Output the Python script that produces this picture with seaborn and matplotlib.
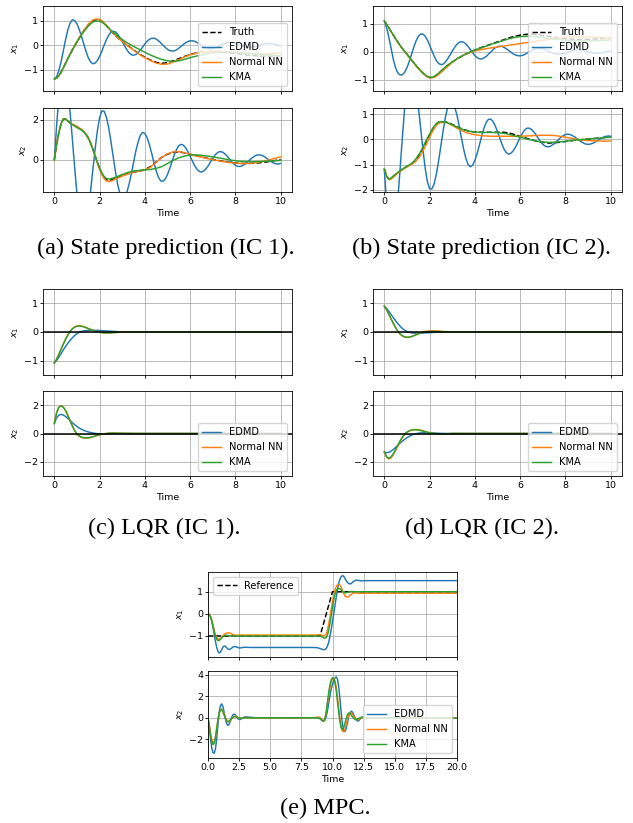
import numpy as np
import matplotlib
matplotlib.use("Agg")
import matplotlib.pyplot as plt
import seaborn as sns

# ---------------- time grids ----------------
t_fine = np.round(np.arange(0, 10.001, 0.1), 2)                       # EDMD (a),(b)
t_smooth = np.round(np.concatenate([np.arange(0, 2.501, 0.1),
                                    np.arange(2.75, 10.001, 0.25)]), 2)  # truth/NN/KMA (a),(b)
t_lqr = np.round(np.concatenate([np.arange(0, 3.001, 0.1),
                                 [3.5, 4, 5, 6, 7, 8, 9, 10]]), 2)
t_mpc = np.round(np.concatenate([np.arange(0, 3.001, 0.1),
                                 [3.5, 4, 5, 6, 7, 8, 8.5],
                                 np.arange(8.8, 13.001, 0.1),
                                 [14, 16, 18, 20]]), 2)

# ---------------- (a) State prediction IC 1 ----------------
a_x1_truth = [-1.37, -1.33, -1.24, -1.09, -0.91, -0.72, -0.53, -0.35, -0.18, -0.01, 0.15, 0.30, 0.45,
              0.59, 0.72, 0.83, 0.93, 1.00, 1.04, 1.06, 1.04, 0.99, 0.91, 0.81, 0.70, 0.59,
              0.36, 0.16, -0.01, -0.18, -0.34, -0.48, -0.60, -0.69, -0.73, -0.70,
              -0.63, -0.54, -0.45, -0.37, -0.31, -0.27, -0.25, -0.24, -0.25, -0.27,
              -0.30, -0.33, -0.36, -0.39, -0.41, -0.43, -0.44, -0.44, -0.43, -0.42]
a_x1_nn = [-1.37, -1.33, -1.24, -1.09, -0.91, -0.72, -0.53, -0.35, -0.17, 0.00, 0.16, 0.32, 0.47,
           0.61, 0.74, 0.86, 0.96, 1.03, 1.07, 1.08, 1.06, 1.00, 0.92, 0.82, 0.71, 0.60,
           0.36, 0.16, -0.02, -0.19, -0.36, -0.50, -0.62, -0.72, -0.77, -0.76,
           -0.68, -0.58, -0.47, -0.38, -0.32, -0.28, -0.26, -0.25, -0.25, -0.26,
           -0.27, -0.29, -0.31, -0.33, -0.34, -0.35, -0.35, -0.34, -0.32, -0.30]
a_x1_kma = [-1.37, -1.33, -1.24, -1.09, -0.91, -0.72, -0.53, -0.35, -0.18, -0.02, 0.14, 0.29, 0.43,
            0.56, 0.68, 0.79, 0.88, 0.95, 0.99, 1.00, 0.99, 0.95, 0.88, 0.80, 0.71, 0.62,
            0.42, 0.24, 0.09, -0.04, -0.16, -0.28, -0.39, -0.49, -0.57, -0.63,
            -0.65, -0.63, -0.57, -0.50, -0.44, -0.39, -0.34, -0.30, -0.28, -0.27,
            -0.27, -0.28, -0.30, -0.32, -0.34, -0.36, -0.38, -0.39, -0.40, -0.41]
a_x1_edmd = [-1.37, -1.28, -1.03, -0.66, -0.21, 0.25, 0.65, 0.92, 1.05, 1.01,
             0.88, 0.65, 0.37, 0.06, -0.24, -0.50, -0.67, -0.75, -0.72, -0.62,
             -0.44, -0.23, 0.01, 0.23, 0.42, 0.54, 0.58, 0.55, 0.46, 0.32,
             0.16, -0.01, -0.17, -0.30, -0.38, -0.40, -0.37, -0.30, -0.19, -0.07,
             0.06, 0.17, 0.25, 0.29, 0.30, 0.26, 0.19, 0.11, 0.01, -0.08,
             -0.16, -0.21, -0.23, -0.22, -0.18, -0.11, -0.04, 0.04, 0.11, 0.16,
             0.19, 0.19, 0.17, 0.12, 0.07, 0.01, -0.05, -0.10, -0.13, -0.14,
             -0.13, -0.11, -0.07, -0.02, 0.03, 0.07, 0.10, 0.12, 0.12, 0.11,
             0.08, 0.05, 0.01, -0.02, -0.05, -0.07, -0.08, -0.075, -0.06, -0.04,
             -0.01, 0.02, 0.05, 0.07, 0.08, 0.08, 0.07, 0.05, 0.03, 0.01, -0.01]
a_x2_truth = [0.0, 0.75, 1.35, 1.78, 2.02, 2.02, 1.92, 1.83, 1.76, 1.70, 1.64, 1.58, 1.50,
              1.40, 1.27, 1.10, 0.85, 0.56, 0.22, -0.12, -0.42, -0.68, -0.87, -0.98, -1.02, -1.00,
              -0.90, -0.79, -0.69, -0.61, -0.56, -0.48, -0.33, -0.10, 0.13, 0.28,
              0.37, 0.39, 0.35, 0.28, 0.21, 0.15, 0.08, 0.02, -0.03, -0.08,
              -0.12, -0.15, -0.17, -0.18, -0.17, -0.15, -0.12, -0.08, -0.03, 0.02]
a_x2_nn = [0.0, 0.76, 1.37, 1.80, 2.04, 2.04, 1.93, 1.84, 1.77, 1.71, 1.65, 1.59, 1.51,
           1.41, 1.28, 1.11, 0.86, 0.55, 0.20, -0.16, -0.47, -0.74, -0.93, -1.04, -1.07, -1.05,
           -0.93, -0.80, -0.69, -0.60, -0.55, -0.50, -0.36, -0.12, 0.13, 0.30,
           0.40, 0.41, 0.36, 0.28, 0.20, 0.14, 0.07, 0.01, -0.04, -0.09,
           -0.13, -0.16, -0.18, -0.18, -0.16, -0.12, -0.07, 0.00, 0.08, 0.15]
a_x2_kma = [0.0, 0.75, 1.36, 1.80, 2.04, 2.03, 1.92, 1.82, 1.74, 1.67, 1.60, 1.54, 1.47,
            1.38, 1.25, 1.07, 0.82, 0.52, 0.20, -0.12, -0.40, -0.64, -0.82, -0.92, -0.95, -0.93,
            -0.84, -0.72, -0.62, -0.55, -0.52, -0.50, -0.47, -0.42, -0.33, -0.18,
            -0.02, 0.10, 0.19, 0.24, 0.25, 0.23, 0.19, 0.15, 0.10, 0.05,
            0.00, -0.04, -0.07, -0.08, -0.09, -0.08, -0.07, -0.06, -0.04, -0.03]
a_x2_edmd = [0.0, 1.68, 3.11, 4.07, 4.40, 4.15, 3.43, 2.32, 0.99, -0.40,
             -1.68, -2.69, -3.28, -3.38, -3.08, -2.45, -1.55, -0.52, 0.52, 1.43,
             2.09, 2.43, 2.41, 2.12, 1.61, 0.92, 0.16, -0.58, -1.22, -1.68,
             -1.89, -1.85, -1.62, -1.21, -0.70, -0.13, 0.43, 0.89, 1.22, 1.36,
             1.31, 1.10, 0.75, 0.33, -0.12, -0.54, -0.86, -1.04, -1.06, -0.95,
             -0.72, -0.42, -0.08, 0.25, 0.52, 0.71, 0.77, 0.73, 0.60, 0.41,
             0.18, -0.06, -0.29, -0.46, -0.57, -0.60, -0.55, -0.44, -0.29, -0.10,
             0.08, 0.24, 0.35, 0.41, 0.40, 0.33, 0.23, 0.10, -0.04, -0.17,
             -0.27, -0.32, -0.33, -0.29, -0.22, -0.14, -0.03, 0.07, 0.15, 0.22,
             0.25, 0.24, 0.21, 0.15, 0.06, -0.02, -0.10, -0.16, -0.20, -0.20, -0.18]

# ---------------- (b) State prediction IC 2 ----------------
b_x1_truth = [1.10, 0.98, 0.85, 0.72, 0.59, 0.46, 0.34, 0.22, 0.11, 0.01, -0.09, -0.19, -0.29,
              -0.39, -0.49, -0.59, -0.68, -0.76, -0.83, -0.89, -0.92, -0.92, -0.89, -0.84, -0.77, -0.70,
              -0.52, -0.37, -0.24, -0.13, -0.03, 0.06, 0.14, 0.21, 0.28, 0.35,
              0.42, 0.49, 0.55, 0.59, 0.62, 0.62, 0.61, 0.58, 0.55, 0.52,
              0.49, 0.47, 0.45, 0.44, 0.44, 0.44, 0.45, 0.46, 0.48, 0.50]
b_x1_nn = [1.10, 0.98, 0.85, 0.72, 0.59, 0.46, 0.33, 0.21, 0.10, 0.00, -0.10, -0.20, -0.30,
           -0.40, -0.50, -0.60, -0.69, -0.77, -0.84, -0.90, -0.93, -0.93, -0.91, -0.87, -0.81, -0.74,
           -0.56, -0.38, -0.23, -0.12, -0.04, 0.03, 0.07, 0.11, 0.14, 0.17,
           0.20, 0.23, 0.26, 0.29, 0.32, 0.35, 0.38, 0.41, 0.44, 0.47,
           0.50, 0.52, 0.53, 0.54, 0.54, 0.53, 0.52, 0.51, 0.49, 0.48]
b_x1_kma = [1.10, 0.98, 0.85, 0.72, 0.59, 0.46, 0.34, 0.22, 0.11, 0.01, -0.09, -0.19, -0.29,
            -0.39, -0.49, -0.58, -0.67, -0.75, -0.82, -0.88, -0.91, -0.91, -0.88, -0.83, -0.76, -0.69,
            -0.51, -0.36, -0.23, -0.12, -0.02, 0.06, 0.13, 0.20, 0.27, 0.33,
            0.40, 0.46, 0.51, 0.54, 0.55, 0.55, 0.53, 0.50, 0.47, 0.45,
            0.43, 0.41, 0.40, 0.39, 0.39, 0.39, 0.39, 0.40, 0.41, 0.42]
b_x1_edmd = [1.10, 0.85, 0.52, 0.12, -0.28, -0.58, -0.76, -0.83, -0.82, -0.73,
             -0.57, -0.35, -0.10, 0.16, 0.38, 0.54, 0.63, 0.63, 0.56, 0.42,
             0.24, 0.04, -0.15, -0.32, -0.42, -0.46, -0.44, -0.36, -0.25, -0.12,
             0.02, 0.15, 0.26, 0.33, 0.36, 0.34, 0.28, 0.19, 0.08, -0.03,
             -0.14, -0.21, -0.25, -0.26, -0.22, -0.17, -0.09, -0.01, 0.07, 0.14,
             0.18, 0.20, 0.19, 0.15, 0.10, 0.04, -0.02, -0.08, -0.12, -0.14,
             -0.15, -0.13, -0.10, -0.05, 0.00, 0.04, 0.08, 0.11, 0.12, 0.11,
             0.10, 0.08, 0.04, 0.00, -0.03, -0.06, -0.08, -0.09, -0.08, -0.07,
             -0.05, -0.02, 0.01, 0.04, 0.06, 0.07, 0.07, 0.06, 0.04, 0.02,
             0.00, -0.02, -0.04, -0.05, -0.05, -0.05, -0.04, -0.02, 0.00, 0.02, 0.03]
b_x2_truth = [-1.18, -1.45, -1.59, -1.55, -1.47, -1.40, -1.32, -1.25, -1.19, -1.13, -1.08, -1.03, -0.97,
              -0.90, -0.80, -0.68, -0.53, -0.37, -0.19, 0.00, 0.17, 0.35, 0.50, 0.61, 0.68, 0.70,
              0.68, 0.59, 0.48, 0.39, 0.32, 0.29, 0.28, 0.28, 0.28, 0.28,
              0.28, 0.25, 0.19, 0.12, 0.05, -0.02, -0.08, -0.12, -0.15, -0.14,
              -0.12, -0.09, -0.06, -0.03, -0.01, 0.01, 0.03, 0.05, 0.07, 0.08]
b_x2_nn = [-1.18, -1.45, -1.60, -1.58, -1.50, -1.42, -1.34, -1.27, -1.21, -1.15, -1.10, -1.05, -1.00,
           -0.94, -0.86, -0.76, -0.63, -0.47, -0.30, -0.11, 0.08, 0.26, 0.42, 0.55, 0.63, 0.67,
           0.66, 0.55, 0.42, 0.31, 0.23, 0.18, 0.15, 0.13, 0.12, 0.12,
           0.12, 0.12, 0.12, 0.12, 0.13, 0.14, 0.15, 0.16, 0.16, 0.15,
           0.12, 0.08, 0.04, 0.00, -0.03, -0.05, -0.06, -0.07, -0.07, -0.07]
b_x2_kma = [-1.18, -1.46, -1.58, -1.53, -1.45, -1.38, -1.31, -1.24, -1.18, -1.12, -1.07, -1.02, -0.96,
            -0.88, -0.77, -0.64, -0.49, -0.32, -0.14, 0.04, 0.21, 0.38, 0.52, 0.62, 0.68, 0.70,
            0.67, 0.58, 0.47, 0.38, 0.32, 0.29, 0.27, 0.27, 0.27, 0.26,
            0.24, 0.20, 0.14, 0.08, 0.02, -0.03, -0.08, -0.11, -0.12, -0.12,
            -0.10, -0.08, -0.05, -0.03, -0.01, 0.01, 0.03, 0.05, 0.07, 0.08]
b_x2_edmd = [-1.20, -2.50, -3.60, -4.20, -3.98, -3.33, -2.34, -1.14, 0.11, 1.26,
             2.16, 2.69, 2.79, 2.55, 2.03, 1.32, 0.48, -0.36, -1.11, -1.67,
             -1.96, -1.97, -1.77, -1.38, -0.85, -0.25, 0.35, 0.88, 1.27, 1.47,
             1.48, 1.31, 0.99, 0.56, 0.09, -0.37, -0.75, -1.00, -1.09, -1.03,
             -0.84, -0.56, -0.23, 0.12, 0.43, 0.67, 0.79, 0.80, 0.71, 0.53,
             0.30, 0.05, -0.20, -0.41, -0.54, -0.59, -0.55, -0.45, -0.30, -0.12,
             0.07, 0.24, 0.37, 0.44, 0.44, 0.39, 0.30, 0.18, 0.04, -0.09,
             -0.20, -0.27, -0.30, -0.29, -0.24, -0.18, -0.09, -0.01, 0.08, 0.14,
             0.19, 0.20, 0.19, 0.15, 0.10, 0.03, -0.03, -0.10, -0.15, -0.19,
             -0.20, -0.19, -0.16, -0.12, -0.06, -0.01, 0.05, 0.09, 0.12, 0.13, 0.12]

# ---------------- (c) LQR IC 1 ----------------
Z8 = [0.0] * 8
c_x1_edmd = [-1.08, -1.00, -0.88, -0.75, -0.62, -0.50, -0.39, -0.29, -0.20, -0.12, -0.06, -0.01, 0.02,
             0.04, 0.05, 0.06, 0.06, 0.06, 0.06, 0.06, 0.05, 0.05, 0.04, 0.04, 0.03, 0.03, 0.02,
             0.02, 0.01, 0.01, 0.01] + Z8
c_x1_nn = [-1.08, -0.95, -0.78, -0.59, -0.41, -0.24, -0.09, 0.03, 0.12, 0.18, 0.21, 0.22, 0.21,
           0.19, 0.16, 0.12, 0.09, 0.06, 0.03, 0.01, -0.01, -0.02, -0.03, -0.03, -0.03, -0.03, -0.02,
           -0.02, -0.01, -0.01, 0.00] + Z8
c_x1_kma = [-1.08, -0.95, -0.78, -0.60, -0.42, -0.25, -0.10, 0.02, 0.11, 0.17, 0.20, 0.21, 0.20,
            0.18, 0.15, 0.12, 0.09, 0.06, 0.03, 0.01, -0.01, -0.02, -0.03, -0.03, -0.03, -0.03, -0.02,
            -0.02, -0.01, -0.01, 0.00] + Z8
c_x2_edmd = [0.70, 1.10, 1.30, 1.35, 1.30, 1.20, 1.06, 0.91, 0.76, 0.62, 0.50, 0.39, 0.30,
             0.22, 0.16, 0.11, 0.07, 0.04, 0.01, -0.01, -0.02, -0.03, -0.03, -0.03, -0.03, -0.02, -0.02,
             -0.01, -0.01, 0.00, 0.00] + Z8
c_x2_nn = [0.70, 1.47, 1.88, 1.97, 1.87, 1.62, 1.27, 0.89, 0.52, 0.19, -0.05, -0.19, -0.28,
           -0.32, -0.33, -0.32, -0.29, -0.24, -0.19, -0.14, -0.09, -0.05, -0.02, 0.00, 0.02, 0.03, 0.03,
           0.03, 0.02, 0.02, 0.01] + Z8
c_x2_kma = [0.70, 1.45, 1.85, 1.95, 1.85, 1.60, 1.25, 0.88, 0.52, 0.20, -0.03, -0.17, -0.26,
            -0.30, -0.31, -0.30, -0.27, -0.23, -0.18, -0.13, -0.09, -0.05, -0.02, 0.00, 0.02, 0.03, 0.03,
            0.03, 0.02, 0.02, 0.01] + Z8

# ---------------- (d) LQR IC 2 ----------------
d_x1_edmd = [0.90, 0.82, 0.72, 0.61, 0.50, 0.39, 0.29, 0.20, 0.12, 0.06, 0.02, -0.01, -0.03,
             -0.04, -0.04, -0.04, -0.04, -0.04, -0.03, -0.03, -0.02, -0.02, -0.01, -0.01, -0.01, 0.00, 0.00,
             0.00, 0.00, 0.00, 0.00] + Z8
d_x1_nn = [0.90, 0.77, 0.61, 0.45, 0.29, 0.14, 0.02, -0.08, -0.14, -0.18, -0.19, -0.18, -0.16,
           -0.13, -0.09, -0.06, -0.03, 0.00, 0.02, 0.03, 0.04, 0.04, 0.04, 0.04, 0.03, 0.03, 0.02,
           0.01, 0.01, 0.00, 0.00] + Z8
d_x1_kma = [0.90, 0.78, 0.62, 0.46, 0.30, 0.15, 0.03, -0.07, -0.13, -0.17, -0.18, -0.18, -0.16,
            -0.13, -0.10, -0.07, -0.04, -0.02, 0.00, 0.01, 0.02, 0.02, 0.02, 0.02, 0.02, 0.01, 0.01,
            0.01, 0.00, 0.00, 0.00] + Z8
d_x2_edmd = [-1.30, -1.36, -1.33, -1.24, -1.12, -0.98, -0.83, -0.68, -0.54, -0.41, -0.30, -0.20, -0.12,
             -0.06, -0.01, 0.02, 0.04, 0.05, 0.05, 0.05, 0.04, 0.04, 0.03, 0.02, 0.02, 0.01, 0.01,
             0.00, 0.00, 0.00, 0.00] + Z8
d_x2_nn = [-1.30, -1.68, -1.80, -1.72, -1.50, -1.20, -0.88, -0.57, -0.30, -0.08, 0.08, 0.18, 0.24,
           0.27, 0.28, 0.27, 0.24, 0.20, 0.15, 0.10, 0.06, 0.02, -0.01, -0.03, -0.04, -0.04, -0.04,
           -0.03, -0.02, -0.01, 0.00] + Z8
d_x2_kma = [-1.30, -1.65, -1.75, -1.65, -1.42, -1.12, -0.80, -0.50, -0.24, -0.04, 0.10, 0.19, 0.24,
            0.26, 0.26, 0.24, 0.21, 0.17, 0.13, 0.09, 0.06, 0.03, 0.01, -0.01, -0.02, -0.02, -0.02,
            -0.02, -0.01, -0.01, 0.00] + Z8

# ---------------- (e) MPC ----------------
ref_t = [0, 9, 10, 20]
ref_x1 = [-1, -1, 1, 1]
e_x1_edmd = ([0.0, -0.03, -0.12, -0.30, -0.60, -0.93, -1.25, -1.52, -1.70, -1.77, -1.73, -1.62, -1.50,
              -1.45, -1.47, -1.53, -1.59, -1.61, -1.59, -1.55, -1.50, -1.48, -1.48, -1.50, -1.52, -1.54,
              -1.54, -1.53, -1.52, -1.51, -1.51]
             + [-1.52] * 7
             + [-1.53, -1.55, -1.57, -1.59, -1.61, -1.62, -1.61, -1.56, -1.45, -1.27, -1.00, -0.70, -0.35,
                0.00, 0.38, 0.75, 1.10, 1.38, 1.57, 1.68, 1.73, 1.70, 1.60, 1.50, 1.42, 1.37, 1.35, 1.37,
                1.42, 1.46, 1.50, 1.52, 1.52, 1.51, 1.50, 1.49, 1.49, 1.49, 1.50, 1.50, 1.50, 1.50, 1.50]
             + [1.50] * 4)
e_x1_nn = ([0.0, -0.02, -0.10, -0.27, -0.50, -0.74, -0.95, -1.08, -1.13, -1.15, -1.12, -1.06, -0.99,
            -0.93, -0.89, -0.87, -0.86, -0.86, -0.88, -0.91, -0.94, -0.96, -0.97, -0.97, -0.96, -0.96,
            -0.96, -0.96, -0.96, -0.96, -0.96]
           + [-0.96] * 7
           + [-0.95, -0.94, -0.94, -0.95, -0.98, -1.00, -0.98, -0.90, -0.72, -0.45, -0.12, 0.22, 0.55,
              0.85, 1.08, 1.23, 1.31, 1.33, 1.30, 1.20, 1.06, 0.92, 0.81, 0.76, 0.75, 0.78, 0.83, 0.88,
              0.92, 0.94, 0.95, 0.95, 0.94, 0.93, 0.93, 0.93, 0.93, 0.93, 0.93, 0.93, 0.93, 0.93, 0.93]
           + [0.93] * 4)
e_x1_kma = ([0.0, -0.03, -0.13, -0.32, -0.57, -0.82, -1.02, -1.15, -1.21, -1.20, -1.15, -1.09, -1.03,
             -0.99, -0.97, -0.97, -0.98, -0.99, -1.00, -1.01, -1.01, -1.00, -1.00, -1.00, -1.00, -1.00,
             -1.00, -1.00, -1.00, -1.00, -1.00]
            + [-1.00] * 7
            + [-1.00, -1.00, -1.01, -1.03, -1.06, -1.09, -1.10, -1.07, -0.95, -0.73, -0.43, -0.08, 0.28,
               0.62, 0.88, 1.05, 1.13, 1.15, 1.13, 1.08, 1.02, 0.97, 0.95, 0.95, 0.97, 0.99, 1.00, 1.01,
               1.01, 1.00, 1.00, 1.00, 1.00, 1.00, 1.00, 1.00, 1.00, 1.00, 1.00, 1.00, 1.00, 1.00, 1.00]
            + [1.00] * 4)
e_x2_edmd = ([0.0, -0.80, -1.90, -2.80, -3.25, -3.30, -2.90, -1.90, -0.60, 0.50, 1.15, 1.30, 1.05,
              0.50, -0.10, -0.55, -0.70, -0.60, -0.30, 0.05, 0.28, 0.35, 0.28, 0.10, -0.07, -0.15,
              -0.15, -0.08, 0.00, 0.06, 0.09]
             + [0.04, 0.0, 0.0, 0.0, 0.0, 0.0, 0.0]
             + [0.00, -0.02, -0.08, -0.18, -0.27, -0.30, -0.20, 0.15, 0.70, 1.40, 2.10, 2.70, 3.15,
                3.50, 3.72, 3.83, 3.60, 2.90, 1.75, 0.45, -0.60, -1.20, -1.28, -1.00, -0.45, 0.10, 0.45,
                0.62, 0.55, 0.30, 0.02, -0.20, -0.30, -0.28, -0.15, 0.00, 0.09, 0.10, 0.06, 0.01, -0.02,
                -0.02, 0.00]
             + [0.0] * 4)
e_x2_nn = ([0.0, -0.60, -1.40, -2.00, -2.30, -2.25, -1.75, -1.00, -0.20, 0.40, 0.75, 0.80, 0.65,
            0.35, 0.00, -0.28, -0.40, -0.38, -0.25, -0.08, 0.05, 0.13, 0.15, 0.10, 0.03, -0.03,
            -0.05, -0.04, -0.02, 0.00, 0.01]
           + [0.0] * 7
           + [0.06, 0.08, 0.03, -0.10, -0.25, -0.30, -0.10, 0.50, 1.35, 2.20, 2.90, 3.40, 3.62,
              3.65, 3.45, 2.90, 2.00, 0.90, -0.10, -0.85, -1.25, -1.30, -1.05, -0.60, -0.10, 0.25, 0.42,
              0.45, 0.35, 0.17, 0.00, -0.13, -0.18, -0.15, -0.08, -0.01, 0.03, 0.04, 0.03, 0.01, 0.00,
              0.00, 0.00]
           + [0.0] * 4)
e_x2_kma = ([0.0, -0.70, -1.60, -2.20, -2.50, -2.40, -1.85, -1.00, -0.15, 0.45, 0.78, 0.75, 0.55,
             0.25, -0.05, -0.27, -0.35, -0.30, -0.18, -0.05, 0.05, 0.10, 0.10, 0.06, 0.01, -0.02,
             -0.03, -0.02, -0.01, 0.00, 0.00]
            + [0.0] * 7
            + [0.00, -0.02, -0.08, -0.18, -0.28, -0.30, -0.05, 0.60, 1.50, 2.40, 3.10, 3.55, 3.75,
               3.65, 3.25, 2.50, 1.50, 0.50, -0.40, -0.95, -1.10, -0.90, -0.50, -0.05, 0.30, 0.45, 0.42,
               0.28, 0.10, -0.05, -0.13, -0.15, -0.12, -0.06, 0.00, 0.03, 0.03, 0.02, 0.01, 0.00, 0.00,
               0.00, 0.00]
            + [0.0] * 4)

labels = ["EDMD", "Normal NN", "KMA"]
colors = ["#1f77b4", "#ff7f0e", "#2ca02c"]

# ---------------- figure ----------------
W, H = 633, 823
FS = 6.8
LFS = 7.1
LW = 1.05
plt.rcParams.update({
    "font.size": FS,
    "axes.linewidth": 0.6,
    "xtick.major.size": 2.0, "ytick.major.size": 2.0,
    "xtick.major.width": 0.6, "ytick.major.width": 0.6,
    "xtick.major.pad": 1.6, "ytick.major.pad": 1.6,
    "legend.fontsize": LFS,
})
fig = plt.figure(figsize=(W / 100, H / 100), dpi=100)


def add_ax(l, t, r, b):
    return fig.add_axes([l / W, 1 - b / H, (r - l) / W, (b - t) / H])


def style(ax, ylim, yticks, ylabel, xlim, xticks, bottom):
    ax.set_xlim(*xlim)
    ax.set_ylim(*ylim)
    ax.set_yticks(yticks)
    ax.set_xticks(xticks)
    ax.grid(True, color="#b0b0b0", linewidth=0.6)
    ax.set_axisbelow(True)
    ax.tick_params(labelsize=FS)
    ax.set_ylabel(ylabel, fontsize=FS, labelpad=2.5)
    if bottom:
        ax.set_xlabel("Time", fontsize=FS, labelpad=2.0)
    else:
        ax.tick_params(labelbottom=False)
        ax.set_xlabel("")


def draw(ax, t_model, series, t_edmd=None, truth=None, t_truth=None,
         legend=None, zero=False):
    if truth is not None:
        sns.lineplot(x=t_truth, y=truth, ax=ax, color="black", linestyle="--",
                     linewidth=LW, label="Truth", legend=False)
    te = t_edmd if t_edmd is not None else t_model
    sns.lineplot(x=te, y=series[0], ax=ax, color=colors[0], linewidth=LW,
                 label=labels[0], legend=False)
    for s, lab, c in zip(series[1:], labels[1:], colors[1:]):
        sns.lineplot(x=t_model, y=s, ax=ax, color=c, linewidth=LW, label=lab, legend=False)
    if zero:
        ax.axhline(0, color="black", linewidth=1.1, zorder=5)
    if legend == "all":
        ax.legend(loc="lower right", fontsize=LFS)
    elif legend == "ref":
        h, l = ax.get_legend_handles_labels()
        ax.legend([h[l.index("Reference")]], ["Reference"], loc="upper left", fontsize=LFS)


xt10 = [0, 2, 4, 6, 8, 10]
xl10 = (-0.5, 10.5)

# (a)
ax = add_ax(43, 6, 292, 91)
draw(ax, t_smooth, [a_x1_edmd, a_x1_nn, a_x1_kma], t_edmd=t_fine, truth=a_x1_truth,
     t_truth=t_smooth, legend="all")
style(ax, (-1.86, 1.61), [-1, 0, 1], "$x_1$", xl10, xt10, False)
ax = add_ax(43, 108, 292, 192)
draw(ax, t_smooth, [a_x2_edmd, a_x2_nn, a_x2_kma], t_edmd=t_fine, truth=a_x2_truth,
     t_truth=t_smooth)
style(ax, (-1.59, 2.57), [0, 2], "$x_2$", xl10, xt10, True)

# (b)
ax = add_ax(373, 6, 622, 91)
draw(ax, t_smooth, [b_x1_edmd, b_x1_nn, b_x1_kma], t_edmd=t_fine, truth=b_x1_truth,
     t_truth=t_smooth, legend="all")
style(ax, (-1.40, 1.63), [-1, 0, 1], "$x_1$", xl10, xt10, False)
ax = add_ax(373, 108, 622, 192)
draw(ax, t_smooth, [b_x2_edmd, b_x2_nn, b_x2_kma], t_edmd=t_fine, truth=b_x2_truth,
     t_truth=t_smooth)
style(ax, (-2.09, 1.24), [-2, -1, 0, 1], "$x_2$", xl10, xt10, True)

# (c)
ax = add_ax(43, 289, 292, 375)
draw(ax, t_lqr, [c_x1_edmd, c_x1_nn, c_x1_kma], zero=True)
style(ax, (-1.5, 1.5), [-1, 0, 1], "$x_1$", xl10, xt10, False)
ax = add_ax(43, 391, 292, 476)
draw(ax, t_lqr, [c_x2_edmd, c_x2_nn, c_x2_kma], zero=True, legend="all")
style(ax, (-3, 3), [-2, 0, 2], "$x_2$", xl10, xt10, True)

# (d)
ax = add_ax(373, 289, 622, 375)
draw(ax, t_lqr, [d_x1_edmd, d_x1_nn, d_x1_kma], zero=True)
style(ax, (-1.5, 1.5), [-1, 0, 1], "$x_1$", xl10, xt10, False)
ax = add_ax(373, 391, 622, 476)
draw(ax, t_lqr, [d_x2_edmd, d_x2_nn, d_x2_kma], zero=True, legend="all")
style(ax, (-3, 3), [-2, 0, 2], "$x_2$", xl10, xt10, True)

# (e)
xt20 = [0, 2.5, 5, 7.5, 10, 12.5, 15, 17.5, 20]
ax = add_ax(208, 572, 457, 657)
sns.lineplot(x=ref_t, y=ref_x1, ax=ax, color="black", linestyle="--", linewidth=LW,
             label="Reference", legend=False)
draw(ax, t_mpc, [e_x1_edmd, e_x1_nn, e_x1_kma], legend="ref")
style(ax, (-1.95, 1.89), [-1, 0, 1], "$x_1$", (0, 20), xt20, False)
ax = add_ax(208, 671, 457, 758)
draw(ax, t_mpc, [e_x2_edmd, e_x2_nn, e_x2_kma], legend="all")
style(ax, (-3.75, 4.37), [-2, 0, 2, 4], "$x_2$", (0, 20), xt20, True)
ax.set_xticklabels([f"{v:.1f}" for v in xt20])

# captions
cap = dict(ha="center", va="center", fontsize=17.5, family=["Liberation Serif", "DejaVu Serif"])
fig.text(165.5 / W, 1 - 248.5 / H, "(a) State prediction (IC 1).", **cap)
fig.text(481 / W, 1 - 248.5 / H, "(b) State prediction (IC 2).", **cap)
fig.text(164 / W, 1 - 528 / H, "(c) LQR (IC 1).", **cap)
fig.text(482 / W, 1 - 528 / H, "(d) LQR (IC 2).", **cap)
fig.text(325.5 / W, 1 - 808 / H, "(e) MPC.", **cap)

fig.savefig("out.png", dpi=100)
